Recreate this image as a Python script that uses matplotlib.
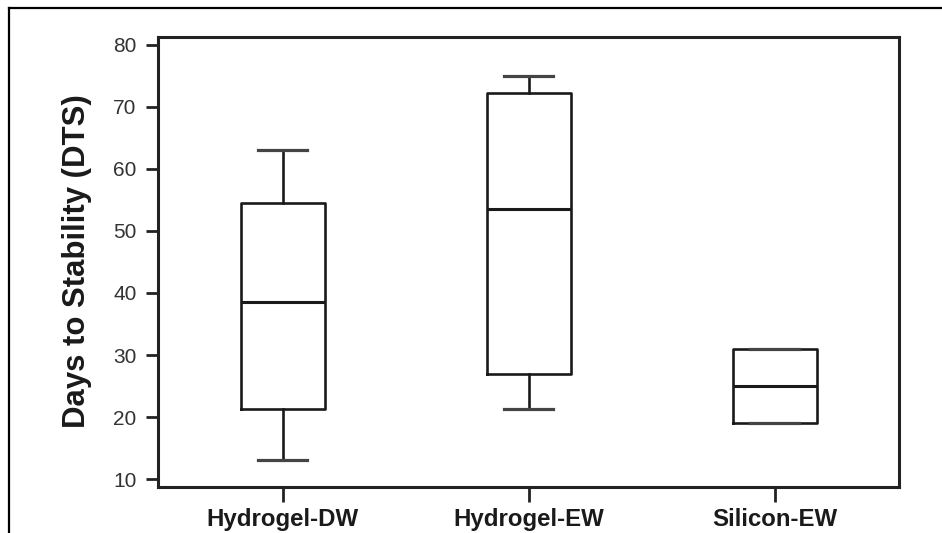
import matplotlib
matplotlib.use("Agg")
import matplotlib.pyplot as plt
from matplotlib.lines import Line2D

plt.rcParams["font.family"] = ["Liberation Sans", "DejaVu Sans"]

# Box summary per group
groups = ["Hydrogel-DW", "Hydrogel-EW", "Silicon-EW"]
whisker_low = [13.1, 21.3, 19.0]
quartile_1 = [21.3, 26.9, 19.0]
medians = [38.5, 53.5, 25.0]
quartile_3 = [54.5, 72.2, 31.0]
whisker_high = [63.0, 74.9, 31.0]
y_ticks = [10, 20, 30, 40, 50, 60, 70, 80]

ink = "#1a1a1a"

fig = plt.figure(figsize=(9.42, 5.33), dpi=100)
ax = fig.add_axes([0.168, 0.0863, 0.9547 - 0.168, 0.9306 - 0.0863])

stats = []
for name, lo, q1, med, q3, hi in zip(groups, whisker_low, quartile_1, medians,
                                     quartile_3, whisker_high):
    stats.append(dict(label=name, whislo=lo, q1=q1, med=med, q3=q3, whishi=hi,
                      fliers=[]))

lw = 1.9
ax.bxp(stats, positions=[1, 2, 3], widths=0.34, capwidths=0.2,
       showfliers=False,
       boxprops=dict(color=ink, linewidth=lw),
       whiskerprops=dict(color=ink, linewidth=lw),
       capprops=dict(color="#444444", linewidth=lw + 0.4),
       medianprops=dict(color=ink, linewidth=lw + 0.3))

ax.set_xlim(0.494, 3.506)
ax.set_ylim(8.76, 81.21)
ax.set_yticks(y_ticks)
ax.set_xticks([1, 2, 3])
ax.set_xticklabels(groups, fontsize=17.3, fontweight="bold", color=ink)

for sp in ax.spines.values():
    sp.set_linewidth(2.2)
    sp.set_color("#222222")

ax.tick_params(axis="y", length=9, width=2.0, pad=6.5, labelsize=15,
               labelcolor="#333333", color="#222222")
ax.tick_params(axis="x", length=11, width=2.0, pad=4, color="#222222")

ax.set_ylabel("Days to Stability (DTS)", fontsize=22.4, fontweight="bold",
              color=ink)
ax.yaxis.set_label_coords(-0.0895, 0.502)

# Outer frame (left and top edges)
fig.add_artist(Line2D([9 / 942, 9 / 942], [0, 1 - 8 / 533],
                      transform=fig.transFigure, color="black", linewidth=1.6))
fig.add_artist(Line2D([9 / 942, 1], [1 - 8 / 533, 1 - 8 / 533],
                      transform=fig.transFigure, color="black", linewidth=1.6))

fig.savefig("out.png", dpi=100, facecolor="white")
